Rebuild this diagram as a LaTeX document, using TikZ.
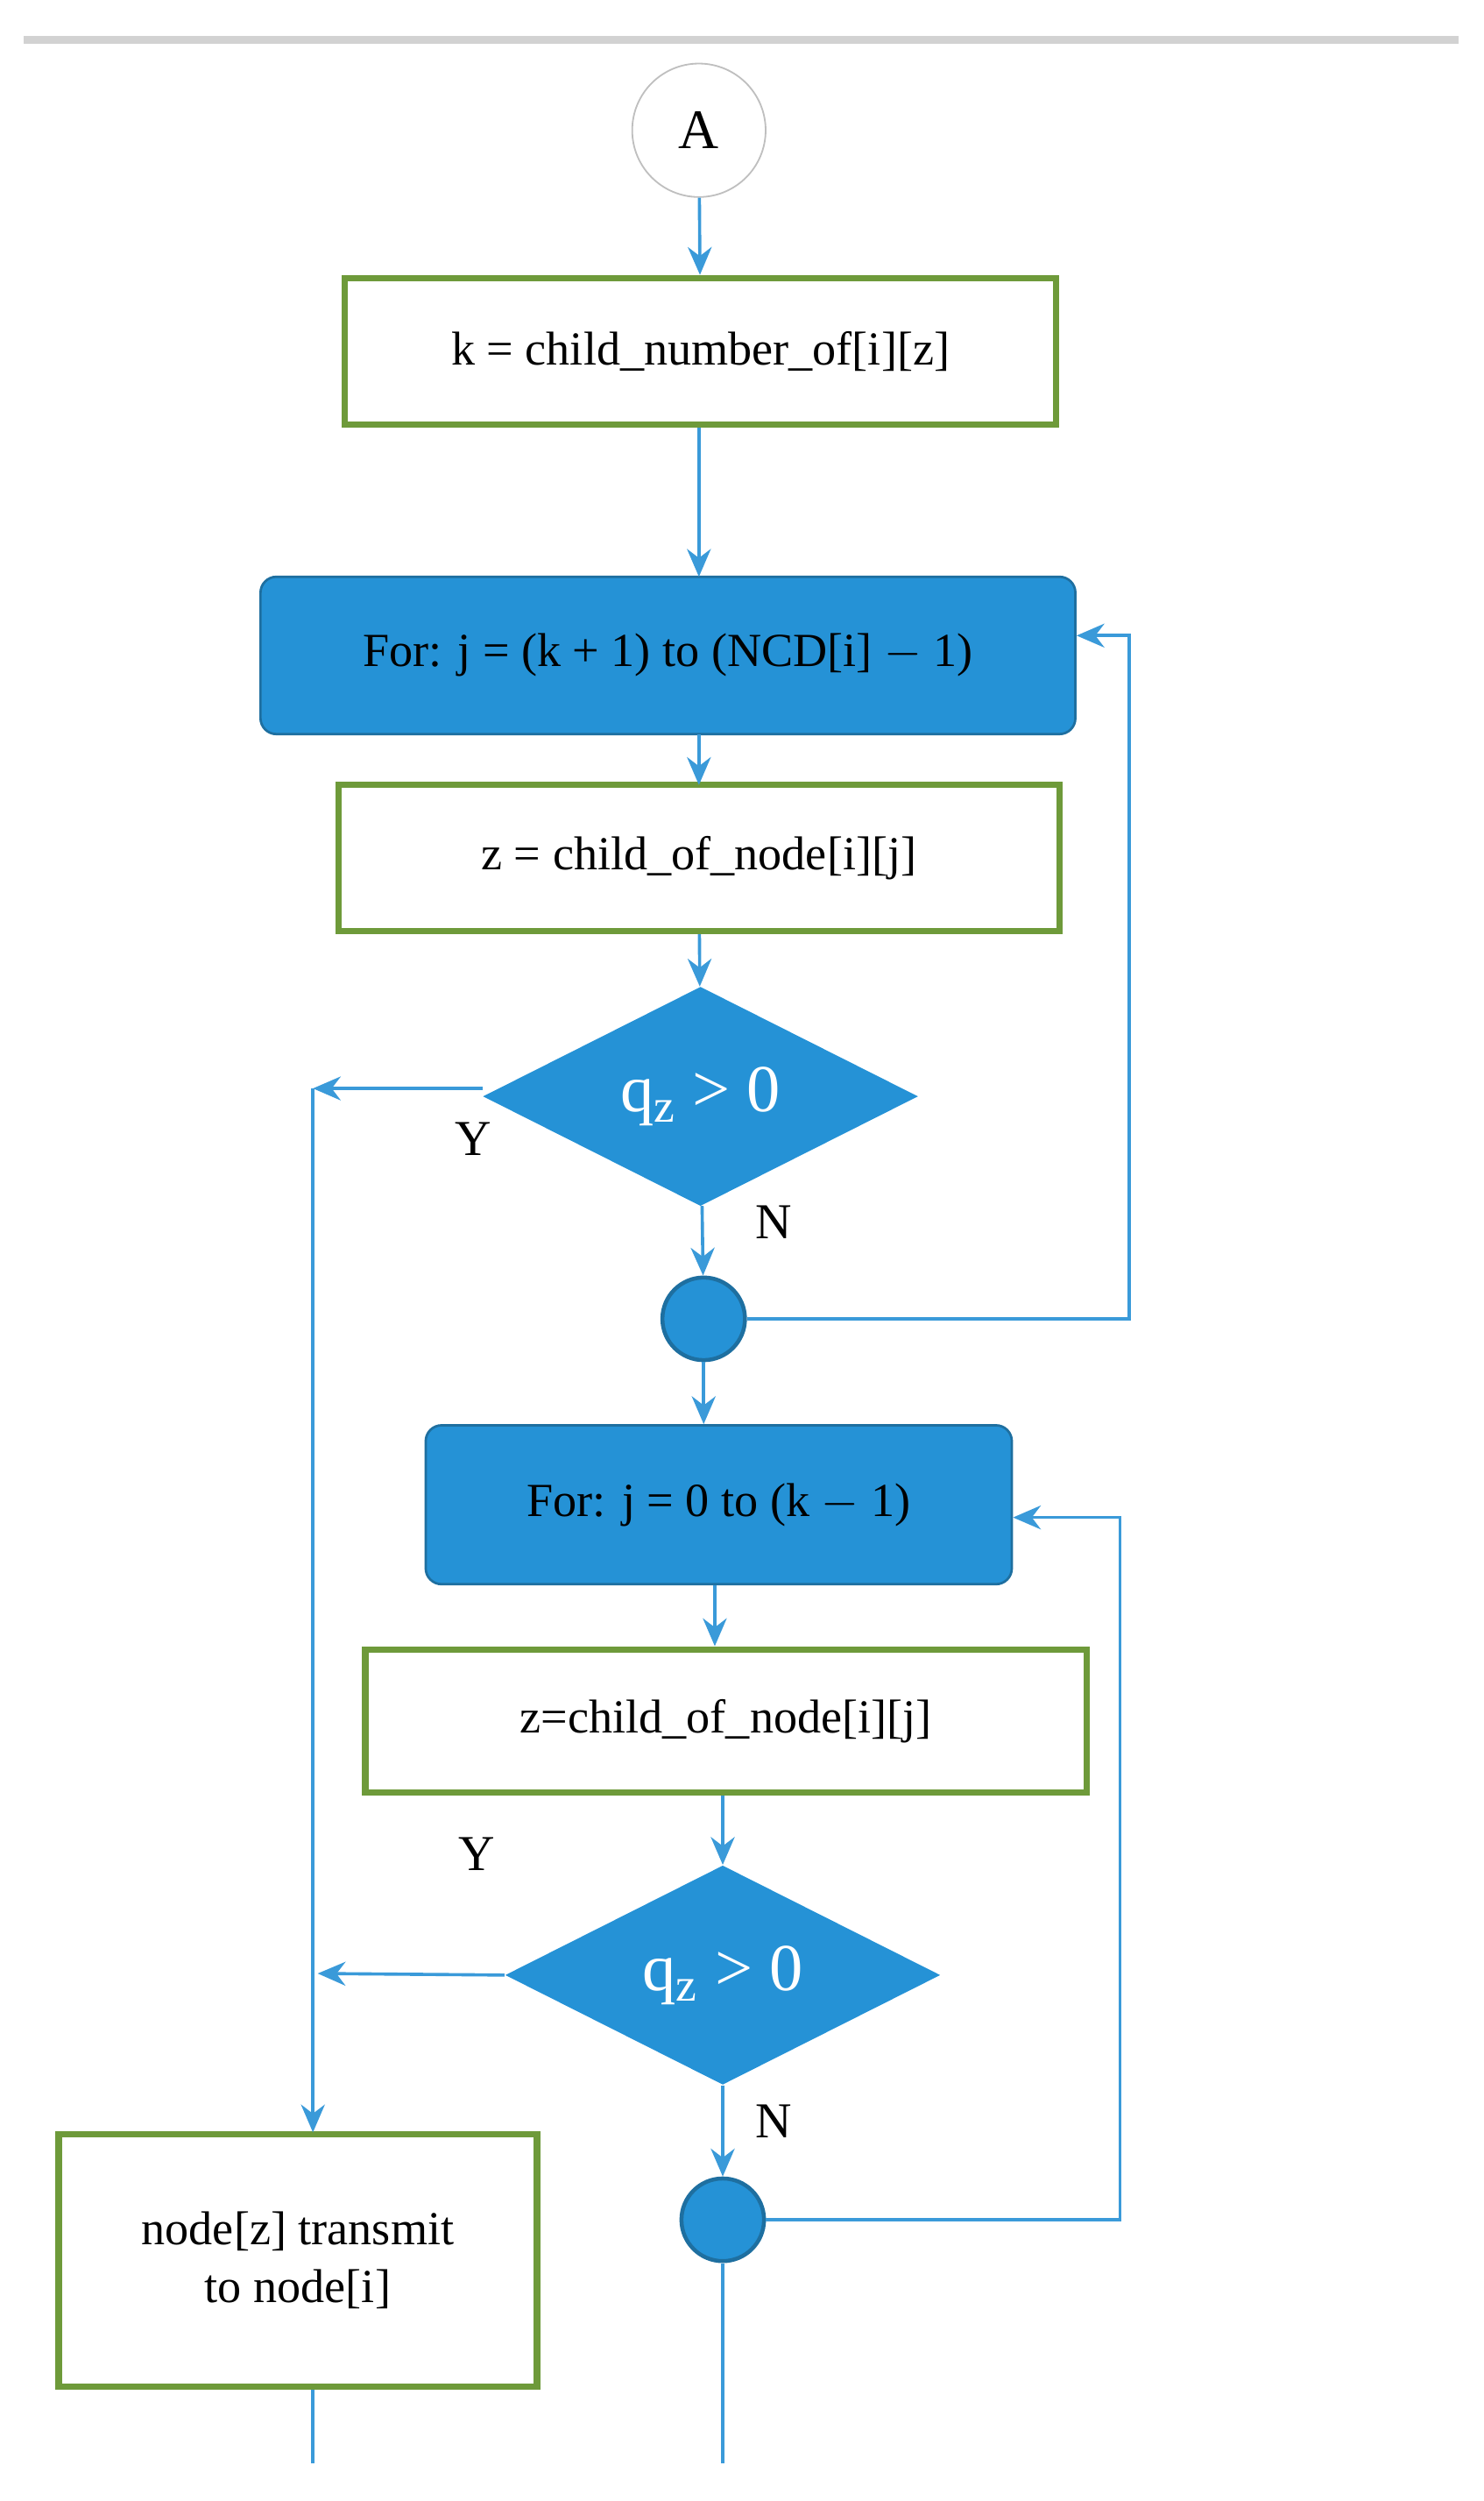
\documentclass[tikz,border=0pt]{standalone}
\usepackage{fontspec}
\setmainfont{Liberation Serif}
\usetikzlibrary{shapes.geometric,arrows.meta}
\definecolor{bl}{HTML}{2592D6}
\definecolor{ln}{HTML}{3A9AD9}
\definecolor{gr}{HTML}{6E9A3A}
\definecolor{dk}{HTML}{1E6FA0}
\begin{document}
\begin{tikzpicture}[x=0.2mm,y=-0.2mm,
 box/.style={draw=gr,line width=0.8mm,fill=white,inner sep=0pt,font=\fontsize{17}{21}\selectfont},
 loop/.style={fill=bl,draw=dk,line width=0.3mm,rounded corners=2mm,inner sep=0pt,font=\fontsize{17}{21}\selectfont},
 dia/.style={diamond,fill=bl,inner sep=0pt,text=white,font=\fontsize{24}{28}\selectfont},
 jn/.style={circle,fill=bl,draw=dk,line width=0.5mm,minimum size=10.4mm,inner sep=0pt},
 ar/.style={draw=ln,line width=0.4mm,-{Stealth[length=3.5mm,width=3mm]}},
 ln/.style={draw=ln,line width=0.4mm},
 lab/.style={font=\fontsize{18}{22}\selectfont}]
\useasboundingbox (0,0) rectangle (934,1574);
\draw[gray!35,line width=1mm] (15,25) -- (918,25);
\node[circle,draw=gray!50,line width=0.2mm,minimum size=16.8mm,font=\fontsize{20}{24}\selectfont] (A) at (440,82) {A};
\node[box,minimum width=89.6mm,minimum height=18.4mm] (b1) at (441,221) {k = child\_number\_of[i][z]};
\node[loop,minimum width=102.6mm,minimum height=19.8mm] (f1) at (420.5,412.5) {For: j = (k + 1) to (NCD[i] $-$ 1)};
\node[box,minimum width=90.8mm,minimum height=18.4mm] (b2) at (440,540) {z = child\_of\_node[i][j]};
\node[dia,minimum width=54.8mm,minimum height=26mm] (d1) at (441,690) {q\textsubscript{z} > 0};
\node[jn] (c1) at (443,830) {};
\node[loop,minimum width=73.8mm,minimum height=20mm] (f2) at (452.5,947) {For: j = 0 to (k $-$ 1)};
\node[box,minimum width=90.8mm,minimum height=18mm] (b4) at (457,1083) {z=child\_of\_node[i][j]};
\node[dia,minimum width=54.8mm,minimum height=27.2mm] (d2) at (455,1243) {q\textsubscript{z} > 0};
\node[jn] (c2) at (455,1397) {};
\node[box,minimum width=60.2mm,minimum height=31.8mm,align=center] (b3) at (187.5,1422.5) {node[z] transmit\\to node[i]};
\coordinate (e1) at (455,1550);
\coordinate (e2) at (197,1550);
\coordinate (L1) at (197,685);
\coordinate (L2) at (200,1242);
\coordinate (t3) at (197,1342);
\draw[ar] (A) -- (b1);
\draw[ar] (b1.south -| f1.north -| 440,0) -- (440,363);
\draw[ar] (440,462) -- (440,494);
\draw[ar] (b2) -- (d1);
\draw[ar] (d1) -- (c1);
\draw[ar] (c1) -- (c1 |- f2.north);
\draw[ar] (c1.east) -- (711,830) -- (711,400) -- (f1.east |- 0,400);
\draw[ar] (d1.west |- 0,685) -- (L1);
\draw[ar] (L1) -- (t3);
\draw[ar] (f2.south -| 450,0) -- (b4.north -| 450,0);
\draw[ar] (b4.south -| 455,0) -- (d2);
\draw[ar] (d2) -- (c2);
\draw[ar] (c2.east) -- (705,1397) -- (705,955) -- (f2.east |- 0,955);
\draw[ar] (d2.west) -- (L2);
\draw[ln] (c2) -- (e1);
\draw[ln] (b3.south -| 197,0) -- (e2);
\node[lab] at (298,717) {Y};
\node[lab] at (487,769) {N};
\node[lab] at (300,1167) {Y};
\node[lab] at (487,1335) {N};
\end{tikzpicture}
\end{document}
